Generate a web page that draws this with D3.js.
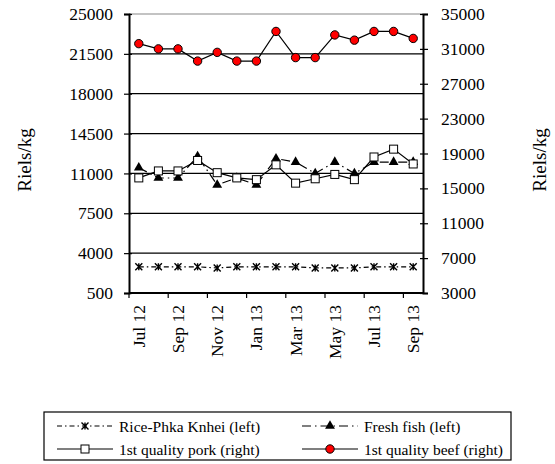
<!DOCTYPE html>
<html><head><meta charset="utf-8">
<script src="https://cdn.jsdelivr.net/npm/d3@7"></script>
<style>
body{margin:0;background:#fff;}
svg text{font-family:"Liberation Serif","Times New Roman",Tinos,Times,"DejaVu Serif","Noto Serif",serif;fill:#000;}
</style></head>
<body><svg id="c" width="555" height="464"></svg>
<script>
const months = ["Jul 12","Aug 12","Sep 12","Oct 12","Nov 12","Dec 12","Jan 13","Feb 13","Mar 13","Apr 13","May 13","Jun 13","Jul 13","Aug 13","Sep 13"];
const rice = [2800,2800,2800,2800,2700,2800,2800,2800,2800,2700,2700,2700,2800,2800,2800];
const fish = [11500,10600,10600,12500,10000,10600,10000,12300,12000,11000,12000,11000,12000,12000,12000];
const pork = [16200,17000,17000,18200,16800,16200,16000,17700,15600,16100,16600,16000,18600,19500,17800];
const beef = [31600,31000,31000,29600,30600,29600,29600,33000,30000,30000,32600,32000,33000,33000,32200];
const leftTicks = [500,4000,7500,11000,14500,18000,21500,25000];
const rightTicks = [3000,7000,11000,15000,19000,23000,27000,31000,35000];
const xLabels = ["Jul 12","Sep 12","Nov 12","Jan 13","Mar 13","May 13","Jul 13","Sep 13"];

const svg = d3.select("#c");
const L=129, R=423, T=14, B=293;
const FS=17.5;
const x = d3.scaleBand().domain(months).range([L,R]);
const yL = d3.scaleLinear().domain([500,25000]).range([B,T]);
const yR = d3.scaleLinear().domain([3000,35000]).range([B,T]);
const cx = d => x(d)+x.bandwidth()/2;

// gridlines
svg.append("g").selectAll("line").data(leftTicks.slice(1)).join("line")
  .attr("x1",L).attr("x2",R).attr("y1",d=>yL(d)).attr("y2",d=>yL(d))
  .attr("stroke",(d)=>d===25000?"#888":"#000").attr("stroke-width",1.2);

// left axis
const gl = svg.append("g").attr("transform",`translate(${L},0)`)
  .call(d3.axisLeft(yL).tickValues(leftTicks).tickSize(5).tickPadding(11).tickFormat(d3.format("d")));
gl.attr("font-family",null);
gl.select(".domain").attr("stroke-width",2);
gl.selectAll(".tick line").attr("x2",-5).attr("x1",3).attr("stroke-width",1.2);
gl.selectAll("text").attr("font-size",FS);

// right axis
const gr = svg.append("g").attr("transform",`translate(${R},0)`)
  .call(d3.axisRight(yR).tickValues(rightTicks).tickSize(5).tickPadding(13).tickFormat(d3.format("d")));
gr.attr("font-family",null);
gr.select(".domain").attr("stroke-width",2);
gr.selectAll(".tick line").attr("x1",-3).attr("x2",5).attr("stroke-width",1.2);
gr.selectAll("text").attr("font-size",FS);

// bottom axis
const gb = svg.append("g").attr("transform",`translate(0,${B})`);
gb.append("line").attr("x1",L).attr("x2",R).attr("stroke","#000").attr("stroke-width",2);
const tickIdx = d3.range(0,months.length,2);
gb.selectAll("line.t").data(tickIdx).join("line").attr("class","t")
  .attr("x1",i=>x(months[i])).attr("x2",i=>x(months[i])).attr("y1",0).attr("y2",5)
  .attr("stroke","#000").attr("stroke-width",1.2);
gb.selectAll("text").data(xLabels).join("text")
  .attr("transform",d=>`translate(${cx(d)+6},${12}) rotate(-90)`)
  .attr("text-anchor","end").attr("font-size",FS).text(d=>d);

// axis titles
svg.append("text").attr("transform","translate(31,160) rotate(-90)").attr("text-anchor","middle").attr("font-size",19).text("Riels/kg");
svg.append("text").attr("transform","translate(546,160) rotate(-90)").attr("text-anchor","middle").attr("font-size",19).text("Riels/kg");

// lines
const line = (ys) => d3.line().x((d,i)=>cx(months[i])).y(d=>ys(d));
const series = [
  {data:rice, y:yL, dash:"5,3,1.5,3", marker:"star"},
  {data:fish, y:yL, dash:"9,4,1.5,4", marker:"tri"},
  {data:pork, y:yR, dash:null, marker:"sq"},
  {data:beef, y:yR, dash:null, marker:"circ"}
];
function drawMarker(g, type, px, py){
  if(type==="star"){
    const s=3.5;
    g.append("path").attr("d",`M${px-s},${py-s}L${px+s},${py+s}M${px-s},${py+s}L${px+s},${py-s}M${px},${py-s}L${px},${py+s}`)
      .attr("stroke","#000").attr("stroke-width",1.4).attr("fill","none");
  } else if(type==="tri"){
    g.append("path").attr("d",d3.symbol(d3.symbolTriangle,42)()).attr("transform",`translate(${px},${py})`).attr("fill","#000");
  } else if(type==="sq"){
    g.append("rect").attr("x",px-4).attr("y",py-4).attr("width",8).attr("height",8).attr("fill","#fff").attr("stroke","#000").attr("stroke-width",1);
  } else {
    g.append("circle").attr("cx",px).attr("cy",py).attr("r",4.2).attr("fill","#f00").attr("stroke","#000").attr("stroke-width",1);
  }
}
series.forEach(s=>{
  svg.append("path").datum(s.data).attr("d",line(s.y)).attr("fill","none").attr("stroke","#000").attr("stroke-width",1.2)
    .attr("stroke-dasharray",s.dash);
  const g=svg.append("g");
  s.data.forEach((v,i)=>drawMarker(g,s.marker,cx(months[i]),s.y(v)));
});

// legend
const lg = svg.append("g");
lg.append("rect").attr("x",44).attr("y",412).attr("width",467).attr("height",48).attr("fill","#fff").attr("stroke","#000").attr("stroke-width",1.2);
const leg = [
  {name:"Rice-Phka Knhei (left)", s:0, col:0, row:0},
  {name:"Fresh fish (left)", s:1, col:1, row:0},
  {name:"1st quality pork (right)", s:2, col:0, row:1},
  {name:"1st quality beef (right)", s:3, col:1, row:1}
];
leg.forEach(l=>{
  const x0 = l.col===0?57:302, yy = l.row===0?426:449;
  lg.append("line").attr("x1",x0).attr("x2",x0+56).attr("y1",yy).attr("y2",yy).attr("stroke","#000").attr("stroke-width",1.2)
    .attr("stroke-dasharray",series[l.s].dash);
  drawMarker(lg,series[l.s].marker,x0+28,yy);
  lg.append("text").attr("x",x0+62).attr("y",yy+5.5).attr("font-size",15.5).text(l.name);
});
</script></body></html>
